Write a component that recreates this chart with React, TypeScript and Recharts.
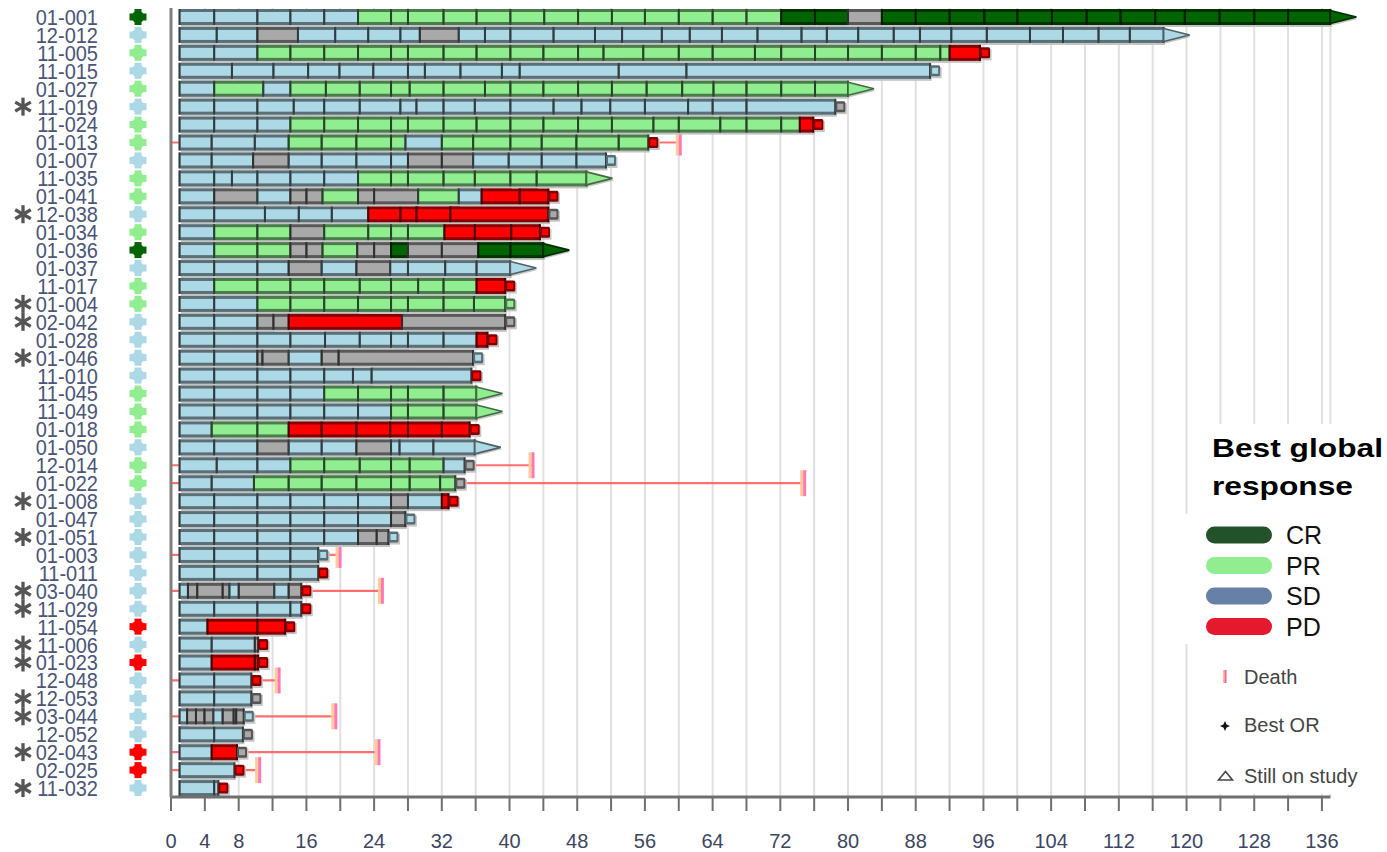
import React from 'react';
import { ComposedChart, Bar, XAxis, YAxis, CartesianGrid, ReferenceLine } from 'recharts';

const patientIds = ['01-001','12-012','11-005','11-015','01-027','11-019','11-024','01-013','01-007','11-035','01-041','12-038','01-034','01-036','01-037','11-017','01-004','02-042','01-028','01-046','11-010','11-045','11-049','01-018','01-050','12-014','01-022','01-008','01-047','01-051','01-003','11-011','03-040','11-029','11-054','11-006','01-023','12-048','12-053','03-044','12-052','02-043','02-025','11-032'];

const starredIds = ['11-019','12-038','01-004','02-042','01-046','01-008','01-051','03-040','11-029','11-006','01-023','12-053','03-044','02-043','11-032'];

const bestResponse = ['CR','SD','PR','SD','PR','SD','PR','PR','SD','PR','PR','SD','PR','CR','SD','PR','PR','SD','SD','SD','SD','PR','PR','PR','SD','PR','PR','SD','SD','SD','SD','SD','SD','SD','PD','SD','PD','SD','SD','SD','SD','PD','PD','SD'];

// each row: runs of [status, cycle end weeks]; every bar starts at week 1
const segmentRuns: [string, number[]][][] = [
  [['SD',[5.1,10.2,14.1,18.1,22.1]],['PR',[26,28,32.2,36.1,40.1,44.1,48.1,52.1,56,60,64,68,72.1]],['CR',[76.1,80]],['NE',[84]],['CR',[88,92,96.1,100,104.1,108.2,112.2,116.3,119.8,123.9,128,132,137]]],
  [['SD',[5.4,10.2]],['NE',[15]],['SD',[19.4,23.3,27.1,29.4]],['NE',[34]],['SD',[37.1,40.1,45.2,50.1,53.3,58,61.3,65.1,69.3,74.5,77.5,81.2,85.4,88.5,92.2,96.4,101.5,105.4,109.6,113.3,117.3]]],
  [['SD',[5.1,10.2]],['PR',[14.1,18.1,22.1,26,28,32.2,36.1,40.1,44,48.1,51.1,55.8,60,64,69,72.1,76.1,80,84,88,90.9,92]],['PD',[95.6]]],
  [['SD',[7.2,12.1,16.2,19.9,23.9,28,30,34.2,39.1,41.2,52.9,60.9,89.7]]],
  [['SD',[5.1]],['PR',[10.9]],['SD',[14.1]],['PR',[18.3,22.3,26,28.2,32.2,37.1,40.1,44,48.1,52.1,56.2,60.4,64.1,68,72.1,76.1,80]]],
  [['SD',[5.1,10.2,14.5,18.1,22.3,27.1,29,32.2,35.9,40.1,45.2,48.5,51.9,56,61.1,64,68,78.5]]],
  [['SD',[5.1,10.2,14.1]],['PR',[18.1,22.1,26,28,32.2,36.1,40.1,44,48.1,52.1,57,60,64.9,68,72.1,74.3]],['PD',[75.9]]],
  [['SD',[4.8,9.9,13.9]],['PR',[17.8,21.9,26,27.7]],['SD',[32]],['PR',[35.7,40.1,43.8,47.9,52.9,56.4]]],
  [['SD',[4.8,9.7]],['NE',[13.9]],['SD',[17.8,21.9,26,28]],['NE',[32,35.7]],['SD',[39.9,43.8,47.9,51.4]]],
  [['SD',[5.1,7.2,10.2,14.1,18.1,22.1]],['PR',[26,28,32.2,35.9,40.1,43.2,49.1]]],
  [['SD',[5.1]],['NE',[10.2]],['SD',[14.1]],['NE',[16,17.9]],['PR',[22.1]],['NE',[24,29.2]],['PR',[34]],['SD',[36.7]],['PD',[41.2,44.6]]],
  [['SD',[5.1,11.1,15.1,19,23.3]],['PD',[27.1,29,33,44.6]]],
  [['SD',[5.1]],['PR',[10.2,14.1]],['NE',[18.1]],['PR',[23.3,26,28,32.3]],['PD',[35.9,40.2,43.6]]],
  [['SD',[5.1]],['PR',[10.2,14.1]],['NE',[16,17.9]],['PR',[22]],['NE',[24,26]],['CR',[28]],['NE',[32,36.3]],['CR',[40.1,44]]],
  [['SD',[5.1,10.2,13.9]],['NE',[17.8]],['SD',[21.9]],['NE',[25.9]],['SD',[28,32.4,36.1,40.1]]],
  [['SD',[5.1]],['PR',[10.2,14.1,18.1,22.3,26,29.2,32.2,36.1]],['PD',[39.5]]],
  [['SD',[5.1,10.2]],['PR',[14.1,18.1,22.1,26,28,32.2,35.8,39.5]]],
  [['SD',[5.1,10.2]],['NE',[12.1,13.9]],['PD',[27.3]],['NE',[39.5]]],
  [['SD',[5.1,10.2,14.1,18.2,22.3,26,28,32.2,36.1]],['PD',[37.4]]],
  [['SD',[5.1,10.2]],['NE',[10.8,13.9]],['SD',[17.8]],['NE',[19.8,35.7]]],
  [['SD',[5.1,10.2,14.1,18.1,21.5,23.7,35.5]]],
  [['SD',[5.1,10.2,14.1,18.1]],['PR',[22.1,26,28,32.2,36.1]]],
  [['SD',[5.1,10.2,14.1,18.1,22.1,26]],['PR',[28,32.2,36.1]]],
  [['SD',[4.8]],['PR',[10.2,13.9]],['PD',[17.8,21.9,25.9,28,32,35.3]]],
  [['SD',[5.1,10.2]],['NE',[13.9]],['SD',[17.8,21.9]],['NE',[26]],['SD',[27,31,35.9]]],
  [['SD',[5.4,10.2,14.1]],['PR',[18.1,22.3,26,28.2,32.2]],['SD',[34.7]]],
  [['SD',[4.8,9.8]],['PR',[13.9,17.8,21.9,26,28.2,31.8,33.6]]],
  [['SD',[5.1,10.2,14.1,18.1,22.1,26]],['NE',[28]],['SD',[32]],['PD',[32.8]]],
  [['SD',[5.1,10.2,14.1,18.1,22.1,26]],['NE',[27.7]]],
  [['SD',[5.1,10.2,14.1,18.1,22.1]],['NE',[24.3,25.7]]],
  [['SD',[5.1,10.2,14.1,17.4]]],
  [['SD',[5.1,10.2,14.1,17.4]]],
  [['SD',[2]],['NE',[3.1,6.1,6.9]],['SD',[8]],['NE',[12.2]],['SD',[13.9]],['NE',[15.4]]],
  [['SD',[5.1,10.2,14.1,15.4]]],
  [['SD',[4.3]],['PD',[10.2,13.5]]],
  [['SD',[4.8,9.9]],['NE',[10.3]]],
  [['SD',[4.8]],['PD',[9.9,10.3]]],
  [['SD',[5.1,9.5]]],
  [['SD',[5.1,9.5]]],
  [['SD',[1.9]],['NE',[2.95,3.95,5]],['SD',[6.1]],['NE',[7.4,7.7,8.6]]],
  [['SD',[5.1,8.5]]],
  [['SD',[4.8]],['PD',[7.8]]],
  [['SD',[7.5]]],
  [['SD',[5.1,5.6]]],
];

// 'arrow' = still on study, otherwise end-of-treatment marker status
const endMarks = ['arrow','arrow','PD','SD','arrow','NE','PD','PD','SD','arrow','PD','NE','PD','arrow','arrow','PD','PR','NE','PD','SD','PD','arrow','arrow','PD','arrow','NE','NE','PD','SD','SD','SD','PD','PD','PD','PD','PD','PD','PD','NE','SD','NE','NE','PD','PD'];

const deathIds = ['01-013','12-014','01-022','01-003','03-040','12-048','03-044','02-043','02-025'];
const deathWeeks = [60, 42.6, 74.7, 19.8, 24.8, 12.6, 19.3, 24.4, 10.3];

const xTicks = [0,4,8,12,16,20,24,28,32,36,40,44,48,52,56,60,64,68,72,76,80,84,88,92,96,100,104,108,112,116,120,124,128,132,136];
const xTickLabels = [0,4,8,16,24,32,40,48,56,64,72,80,88,96,104,112,120,128,136];

const legendLabels = ['CR','PR','SD','PD'];
const legendColors = ['#23522a','#90EE90','#6780A5','#E5192D'];

const COLORS: Record<string, string> = { CR: '#006400', PR: '#90EE90', SD: '#ADD8E6', PD: '#FF0000', NE: '#A9A9A9' };
const FONT = 'Liberation Sans, Arial, sans-serif';

const shade = (hex: string, f: number) => {
  const n = parseInt(hex.slice(1), 16);
  const r = Math.round(((n >> 16) & 255) * f);
  const g = Math.round(((n >> 8) & 255) * f);
  const b = Math.round((n & 255) * f);
  return `rgb(${r},${g},${b})`;
};

const rows = patientIds.map((id, r) => {
  const segs: { st: string; w: number }[] = [];
  let prev = 1;
  segmentRuns[r].forEach(([st, ends]) => {
    ends.forEach((e) => {
      segs.push({ st, w: e - prev });
      prev = e;
    });
  });
  return { id, off: 1, segs, endMark: endMarks[r] } as any;
});
const MAXSEG = Math.max(...rows.map((d: any) => d.segs.length));
rows.forEach((d: any) => {
  for (let i = 0; i < MAXSEG; i++) d['v' + i] = d.segs[i] ? d.segs[i].w : 0;
});

const makeSeg = (i: number) => (p: any) => {
  const { x, y, width, height, payload } = p;
  if (!payload || i >= payload.segs.length || !(width > 0)) return <g />;
  const st = payload.segs[i].st;
  const c = COLORS[st];
  const isLast = i === payload.segs.length - 1;
  const cy = y + height / 2;
  const xe = x + width;
  let endEl: any = null;
  if (isLast) {
    if (payload.endMark === 'arrow') {
      const pts = `${xe},${cy - 6.5} ${xe + 26},${cy} ${xe},${cy + 6.5}`;
      const spts = `${xe + 1.5},${cy - 4.5} ${xe + 27.5},${cy + 2} ${xe + 1.5},${cy + 8.5}`;
      endEl = (
        <g>
          <polygon points={spts} fill="#c6c6c6" />
          <polygon points={pts} fill={c} stroke={shade(c, 0.45)} strokeWidth={1.6} />
        </g>
      );
    } else {
      const mc = COLORS[payload.endMark];
      endEl = (
        <g>
          <rect x={xe + 1.5} y={cy - 3.5} width={10} height={11} fill="#c6c6c6" />
          <rect x={xe} y={cy - 5.5} width={10} height={11} rx={1.5} fill={shade(mc, 0.5)} />
          <rect x={xe + 2} y={cy - 3} width={6} height={6} fill={mc} />
        </g>
      );
    }
  }
  return (
    <g>
      <rect x={x + 1.5} y={y + 2} width={width} height={height} fill="#c3c3c3" />
      <rect x={x} y={y} width={width} height={height} fill={shade(c, 0.52)} />
      {width > 2.5 ? <rect x={x + 1} y={y + 3} width={width - 2} height={height - 6} fill={c} /> : null}
      <rect x={x - 1} y={y} width={2} height={height} fill={shade(c, 0.28)} />
      {isLast ? <rect x={xe - 1} y={y} width={2} height={height} fill={shade(c, 0.28)} /> : null}
      {endEl}
    </g>
  );
};

const DeathShape = (p: any) => {
  const { x1, y1, x2, y2 } = p;
  return (
    <g>
      <line x1={x1 - 1} y1={y1} x2={x2} y2={y2} stroke="#ff4d4d" strokeOpacity={0.8} strokeWidth={2.2} />
      <rect x={x2 - 3} y={y2 - 13} width={3} height={26} fill="#ffcc95" />
      <rect x={x2} y={y2 - 13} width={3} height={26} fill="#ff77b5" />
    </g>
  );
};

const Asterisk = ({ cx, cy }: { cx: number; cy: number }) => (
  <g stroke="#555" strokeWidth={3.3}>
    <line x1={cx} y1={cy - 9} x2={cx} y2={cy + 9} />
    <line x1={cx - 7.8} y1={cy - 4.5} x2={cx + 7.8} y2={cy + 4.5} />
    <line x1={cx - 7.8} y1={cy + 4.5} x2={cx + 7.8} y2={cy - 4.5} />
  </g>
);

const RespMark = ({ cx, cy, color }: { cx: number; cy: number; color: string }) => (
  <g fill={color}>
    <rect x={cx - 8.5} y={cy - 3.5} width={17} height={7} />
    <rect x={cx - 3.5} y={cy - 8} width={7} height={16} />
    <circle cx={cx} cy={cy} r={6.2} />
  </g>
);

const YTick = (p: any) => {
  const { y, payload } = p;
  const id = payload.value;
  const r = patientIds.indexOf(id);
  return (
    <g>
      {starredIds.includes(id) ? <Asterisk cx={23} cy={y} /> : null}
      <text transform={`translate(98 ${y}) scale(1 1.1)`} dy="0.36em" textAnchor="end" fontSize={20} fill="#4b5577" fontFamily={FONT}>
        {id}
      </text>
      <RespMark cx={138} cy={y} color={COLORS[bestResponse[r]]} />
    </g>
  );
};

const XTick = (p: any) => {
  const { x, y, payload } = p;
  if (!xTickLabels.includes(payload.value)) return <g />;
  return (
    <text x={x} y={y + 35} textAnchor="middle" fontSize={20} fill="#3d4661" fontFamily={FONT}>
      {payload.value}
    </text>
  );
};

export default function App() {
  return (
    <div style={{ position: 'absolute', left: 0, top: 0, width: 1387, height: 852, background: '#fff' }}>
      <ComposedChart
        width={1387}
        height={852}
        data={rows}
        layout="vertical"
        margin={{ top: 8, right: 56.6, left: 0, bottom: 0 }}
      >
        <CartesianGrid horizontal={false} stroke="#e0e0e0" strokeWidth={2} />
        <XAxis
          type="number"
          domain={[0, 137]}
          ticks={xTicks}
          interval={0}
          tickSize={14}
          tickLine={{ stroke: '#6f6f6f', strokeWidth: 2 }}
          axisLine={{ stroke: '#6f6f6f', strokeWidth: 3 }}
          tick={XTick}
          height={55}
        />
        <YAxis
          type="category"
          dataKey="id"
          width={171}
          interval={0}
          tickLine={false}
          axisLine={{ stroke: '#808080', strokeWidth: 3 }}
          tick={YTick}
        />
        {deathIds.map((id, k) => (
          <ReferenceLine
            key={id}
            segment={[{ x: 0, y: id }, { x: deathWeeks[k], y: id }]}
            shape={DeathShape}
            ifOverflow="visible"
            zIndex={250}
          />
        ))}
        <Bar dataKey="off" stackId="s" barSize={16} isAnimationActive={false} shape={() => <g />} />
        {Array.from({ length: MAXSEG }, (_, i) => (
          <Bar key={i} dataKey={`v${i}`} stackId="s" barSize={16} isAnimationActive={false} shape={makeSeg(i)} />
        ))}
      </ComposedChart>
      <svg width={1387} height={852} style={{ position: 'absolute', left: 0, top: 0, pointerEvents: 'none' }}>
        <rect x={1189} y={424} width={198} height={370} fill="#fff" />
        <rect x={1183} y={514} width={10} height={130} fill="#fff" />
        <text x={1212} y={457} fontSize={26} fontWeight="bold" fontFamily={FONT} fill="#000" textLength={171} lengthAdjust="spacingAndGlyphs">Best global</text>
        <text x={1212} y={495} fontSize={26} fontWeight="bold" fontFamily={FONT} fill="#000" textLength={141} lengthAdjust="spacingAndGlyphs">response</text>
        {legendLabels.map((lab, k) => {
          const cy = 535 + k * 30.5;
          return (
            <g key={lab}>
              <rect x={1206} y={cy - 8.5} width={66} height={17} rx={8.5} fill={legendColors[k]} />
              <text x={1286} y={cy + 9} fontSize={25} fontFamily={FONT} fill="#111">{lab}</text>
            </g>
          );
        })}
        <rect x={1223} y={670} width={1.5} height={13} fill="#ffc08a" />
        <rect x={1224.5} y={670} width={2} height={13} fill="#ff5f9e" />
        <text x={1244} y={683.5} fontSize={20} fontFamily={FONT} fill="#444">Death</text>
        <path d="M1225,721 L1226.6,724.4 L1230,726 L1226.6,727.6 L1225,731 L1223.4,727.6 L1220,726 L1223.4,724.4 Z" fill="#111" />
        <text x={1244} y={732} fontSize={20} fontFamily={FONT} fill="#444">Best OR</text>
        <polygon points="1218.5,780 1225.5,771.5 1232.5,780" fill="none" stroke="#444" strokeWidth={1.6} />
        <text x={1244} y={783} fontSize={20} fontFamily={FONT} fill="#444">Still on study</text>
      </svg>
    </div>
  );
}
